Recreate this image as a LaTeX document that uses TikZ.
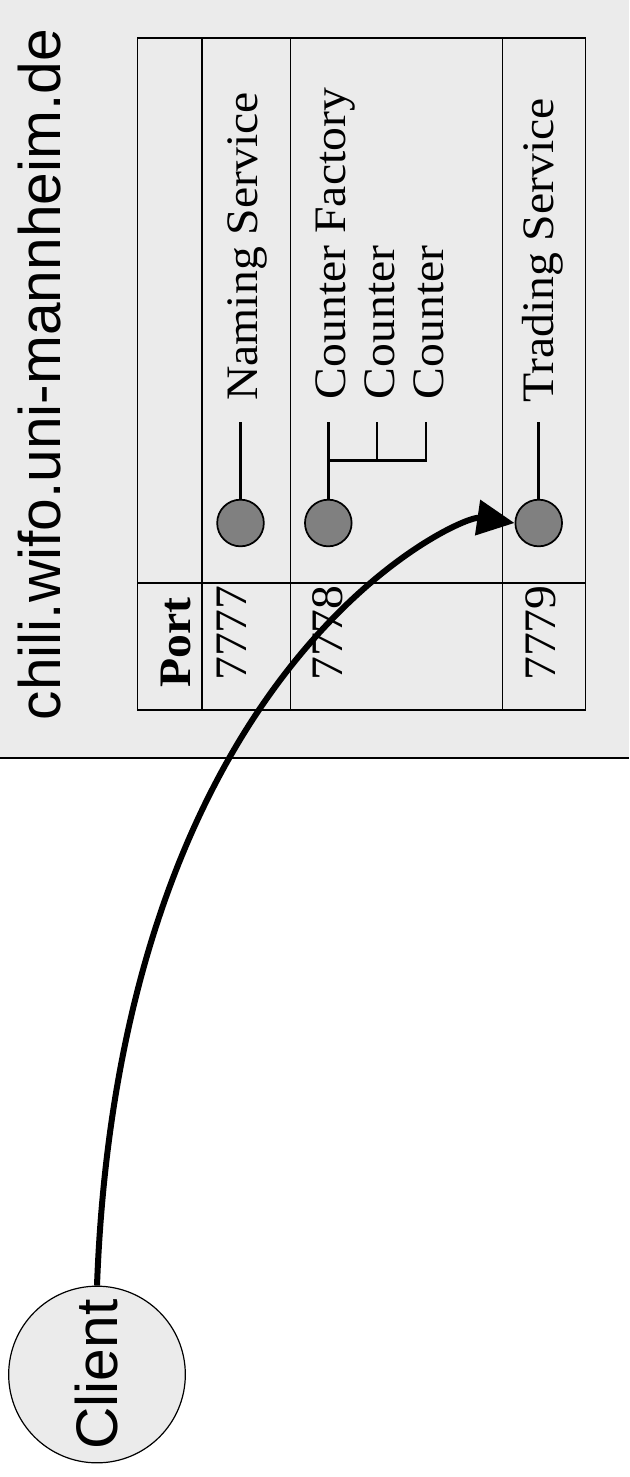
\documentclass[tikz,border=0pt]{standalone}
\usepackage{fontspec}
\usepackage{graphicx}
\setmainfont{Liberation Serif}
\setsansfont{Liberation Sans}
\usetikzlibrary{arrows.meta}
\definecolor{panelgrey}{HTML}{EBEBEB}
\definecolor{portgrey}{HTML}{808080}
% slightly widened serif lettering
\newcommand\widetext[1]{\scalebox{1.06}[1]{#1}}

\begin{document}
\begin{tikzpicture}[x=0.75pt, y=-0.75pt,
  gridline/.style={line width=1.2pt},
  serifsize/.style={font=\fontsize{33.75}{36}\selectfont},
  sanssize/.style={font=\sffamily\fontsize{44}{46}\selectfont},
  uplabel/.style={rotate=90, anchor=base west, inner sep=0pt, serifsize},
  portdot/.style={circle, draw, line width=1.3pt, fill=portgrey, minimum size=35pt, inner sep=0pt},
  stem/.style={line width=2.2pt},
  branch/.style={line width=1.7pt},
  call/.style={line width=4.5pt, -{Triangle[length=28pt,width=26pt]}}
]
\useasboundingbox (0,0) rectangle (629,1477);

% host panel
\fill[panelgrey] (0,0) rectangle (629,758);
\draw[gridline] (0,758) -- (629,758);
\node[rotate=90, anchor=base west, inner sep=0pt, sanssize] (host) at (60,720.5) {chili.wifo.uni-mannheim.de};

% port table
\draw[gridline] (137.5,38) rectangle (585.5,710);
\draw[gridline] (137.5,583) -- (585.5,583);
\draw[gridline] (202,38) -- (202,710);
\draw[gridline] (290.5,38) -- (290.5,710);
\draw[gridline] (502.5,38) -- (502.5,710);

\node[uplabel, font=\bfseries\fontsize{33.75}{36}\selectfont] (porthead) at (190,687.5) {\widetext{Port}};
\node[uplabel] (p7777) at (246.7,681) {\widetext{7777}};
\node[uplabel] (p7778) at (342,681) {\widetext{7778}};
\node[uplabel] (p7779) at (555,681) {\widetext{7779}};

% services
\node[portdot] (ns) at (240.5,523) {};
\node[portdot] (cf) at (328.3,523) {};
\node[portdot] (ts) at (538.7,523) {};

\coordinate (nsend) at (240.5,422);
\coordinate (cfend) at (328.3,422);
\coordinate (cfbar) at (328.3,460.5);
\coordinate (c1bar) at (377,460.5);
\coordinate (c1end) at (377,422);
\coordinate (c2end) at (426,422);
\coordinate (tsend) at (538.7,422);

\draw[stem] (ns.north) -- (nsend);
\draw[stem, line width=2.6pt] (cf.north) -- (cfend);
\draw[branch] (cfbar) -| (c2end);
\draw[branch] (c1bar) -- (c1end);
\draw[stem] (ts.north) -- (tsend);

\node[uplabel] (naming) at (257,401) {\widetext{Naming Service}};
\node[uplabel] (factory) at (345,399.5) {\widetext{Counter Factory}};
\node[uplabel] (counterA) at (394,399.5) {\widetext{Counter}};
\node[uplabel] (counterB) at (443,399.5) {\widetext{Counter}};
\node[uplabel] (trading) at (553.5,402.5) {\widetext{Trading Service}};

% client and its call to the trading service
\node[circle, draw, line width=0.9pt, fill=panelgrey, minimum size=132.5pt, inner sep=0pt,
      rotate=90, sanssize] (client) at (97,1374.5) {Client};
% the node is rotated, so its east side faces upwards
\draw[call] (client.east) .. controls (120,665) and (460,515) .. (ts.west);
\end{tikzpicture}
\end{document}
